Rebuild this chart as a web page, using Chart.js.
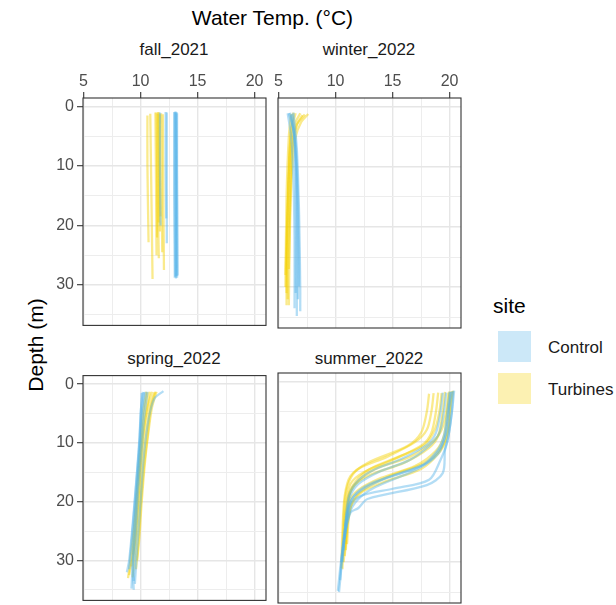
<!DOCTYPE html>
<html>
<head>
<meta charset="utf-8">
<script src="https://cdn.jsdelivr.net/npm/chart.js@4.4.1/dist/chart.umd.min.js"></script>
<style>
  body { margin: 0; background: #fff; width: 616px; height: 605px; overflow: hidden; position: relative;
         font-family: 'Liberation Sans', Arial, sans-serif; }
  .txt { position: absolute; white-space: nowrap; }
  canvas { position: absolute; }
  .key { position: absolute; width: 33px; height: 31px; }
</style>
</head>
<body>
<div class="txt" style="left:0;width:545px;top:7px;text-align:center;font-size:21px;line-height:21px;color:#000">Water Temp. (°C)</div>
<div class="txt" style="left:35px;top:345px;font-size:21px;line-height:21px;color:#000;transform:translate(-50%,-50%) rotate(-90deg)">Depth (m)</div>
<div id="strips"></div>

<!-- legend -->
<div class="txt" style="left:493px;top:295px;font-size:21px;line-height:21px;color:#000">site</div>
<div class="key" id="key0" style="left:498px;top:331px"></div>
<div class="key" id="key1" style="left:498px;top:373px"></div>
<div class="txt" id="lab0" style="left:548px;top:339px;font-size:17px;line-height:17px;color:#1A1A1A"></div>
<div class="txt" id="lab1" style="left:548px;top:380.5px;font-size:17px;line-height:17px;color:#1A1A1A"></div>

<canvas id="c0"></canvas>
<canvas id="c1"></canvas>
<canvas id="c2"></canvas>
<canvas id="c3"></canvas>

<script>
// Facets, sites, ticks
const seasons = ['fall_2021', 'winter_2022', 'spring_2022', 'summer_2022'];
const sites = ['Control', 'Turbines'];
const siteColors = ['86,180,233', '245,208,0'];
const xTicks = [5, 10, 15, 20];
const yTicks = [0, 10, 20, 30];
const tempRange = [4.95, 21.0];
const depthRange = [-1.45, 36.8];

// Profiles, each point is [temperature (°C), depth (m)]
const fallControl = [
  [[12.95, 0.9], [12.95, 15], [13.0, 28.8]],
  [[13.0, 1.0], [13.0, 14], [13.05, 28.6]],
  [[13.05, 0.8], [13.1, 15], [13.1, 28.9]],
  [[13.1, 1.0], [13.1, 12], [13.15, 28.5]],
  [[13.15, 0.9], [13.2, 16], [13.2, 28.8]],
  [[13.2, 1.1], [13.2, 14], [13.25, 28.4]],
  [[12.2, 0.9], [12.2, 10], [12.25, 18.8]],
  [[12.3, 1.0], [12.3, 12], [12.3, 23.0]],
  [[11.7, 1.0], [11.7, 10], [11.75, 20.0]]
];
const fallTurbines = [
  [[10.6, 1.5], [10.6, 10], [10.7, 22.8]],
  [[10.85, 1.2], [10.95, 15], [11.05, 29.0]],
  [[11.3, 1.0], [11.35, 12], [11.4, 25.0]],
  [[11.4, 1.0], [11.45, 12], [11.45, 22.0]],
  [[11.5, 1.2], [11.5, 14], [11.6, 25.5]],
  [[11.55, 0.9], [11.6, 10], [11.6, 19.5]],
  [[11.6, 1.0], [11.65, 14], [11.7, 21.0]],
  [[11.7, 1.3], [11.7, 10], [11.75, 18.5]],
  [[11.8, 1.1], [11.85, 14], [11.9, 24.5]],
  [[11.95, 1.3], [12.0, 15], [12.05, 27.5]]
];

const winterControl = [
  [[5.9, 1.1], [6.3, 4], [6.5, 10], [6.6, 20], [6.6, 30], [6.6, 34.8]],
  [[6.0, 1.0], [6.4, 5], [6.6, 12], [6.7, 25], [6.7, 32]],
  [[6.2, 1.2], [6.5, 6], [6.7, 15], [6.8, 26], [6.8, 29.9]],
  [[5.8, 1.1], [6.1, 5], [6.3, 12], [6.4, 22], [6.4, 33.5]],
  [[6.1, 1.3], [6.4, 6], [6.5, 15], [6.5, 27], [6.5, 31]],
  [[6.3, 1.0], [6.6, 7], [6.8, 18], [6.9, 30], [6.9, 34]]
];
const winterTurbines = [
  [[7.6, 1.2], [7.0, 2.5], [6.5, 5], [6.2, 10], [6.0, 20], [5.9, 33]],
  [[7.3, 1.3], [6.6, 3], [6.2, 6], [6.0, 15], [5.8, 25], [5.8, 32]],
  [[6.9, 1.1], [6.4, 3], [6.0, 8], [5.8, 18], [5.7, 31]],
  [[6.5, 1.1], [6.1, 4], [5.9, 12], [5.7, 22], [5.6, 28]],
  [[6.1, 1.2], [5.9, 5], [5.7, 15], [5.6, 30]],
  [[7.1, 1.4], [6.6, 3], [6.2, 7], [6.0, 17], [5.9, 27]],
  [[6.3, 1.0], [6.0, 6], [5.8, 16], [5.7, 26], [5.7, 33]]
];

const springControl = [
  [[12.0, 1.2], [11.2, 2.5], [10.7, 6], [10.3, 12], [10.0, 20], [9.7, 28], [9.5, 34]],
  [[10.2, 1.3], [10.0, 5], [9.9, 10], [9.6, 17], [9.3, 24], [9.0, 30], [8.8, 32]],
  [[10.4, 1.3], [10.2, 5], [10.0, 10], [9.7, 18], [9.5, 25], [9.3, 31], [9.2, 34.8]],
  [[10.1, 1.5], [10.0, 6], [9.8, 12], [9.5, 20], [9.2, 27], [9.0, 31.5]],
  [[10.6, 1.3], [10.3, 6], [10.1, 11], [9.8, 18], [9.6, 25], [9.4, 33.5]],
  [[10.3, 1.4], [10.1, 5], [9.9, 11], [9.7, 17], [9.5, 22], [9.3, 30], [9.4, 35]]
];
const springTurbines = [
  [[11.4, 1.3], [11.0, 4], [10.7, 8], [10.4, 13], [10.1, 20], [9.9, 26], [9.7, 30]],
  [[11.2, 1.4], [10.8, 4], [10.5, 8], [10.2, 13], [9.9, 20], [9.6, 27], [9.3, 32.9]],
  [[11.0, 1.3], [10.6, 4], [10.3, 8], [10.0, 14], [9.8, 20], [9.5, 27], [9.0, 32.5]],
  [[10.8, 1.3], [10.5, 5], [10.2, 9], [9.9, 15], [9.7, 21], [9.4, 28], [9.2, 31]],
  [[10.6, 1.4], [10.4, 4], [10.1, 9], [9.9, 14], [9.6, 21], [9.3, 29]],
  [[11.3, 1.3], [10.9, 4], [10.6, 9], [10.3, 14], [10.0, 21], [9.8, 27], [9.6, 31.5]],
  [[10.5, 1.3], [10.2, 5], [10.0, 10], [9.7, 17], [9.5, 23], [9.1, 30], [8.9, 33]]
];

const summerControl = [
  [[20.3, 1.6], [20.2, 5], [19.9, 9], [19.6, 11.3], [19.4, 15.2], [18.0, 17.2], [12.8, 19.5], [12.0, 21], [11.3, 21.8], [10.8, 26], [10.3, 35]],
  [[20.4, 1.5], [20.2, 5], [19.8, 10], [19.2, 13], [18.2, 16.3], [15.0, 17.8], [12.2, 19.0], [11.3, 20.5], [10.7, 26], [10.4, 33]],
  [[20.0, 1.7], [19.8, 5], [19.5, 9], [18.9, 11.5], [17.5, 14], [14.5, 16], [12.3, 18], [11.3, 20], [10.8, 26]],
  [[19.7, 1.8], [19.5, 5], [19.1, 8.5], [18.3, 10.5], [16.5, 13], [13.8, 15], [12.0, 17], [11.2, 19.5], [10.8, 25], [10.5, 30]],
  [[20.2, 1.6], [20.0, 4], [19.8, 8], [19.2, 11], [18.0, 13.5], [16.0, 15], [13.0, 17], [11.6, 19], [11.0, 22], [10.6, 30]],
  [[19.4, 1.8], [19.2, 5], [18.8, 8.5], [18.0, 10.5], [15.8, 12.8], [13.2, 14.8], [11.8, 16.8], [11.1, 19.5], [10.7, 28]],
  [[20.1, 1.7], [19.9, 5], [19.6, 9], [19.0, 12], [17.2, 14.5], [13.5, 17.5], [12.0, 19.5], [11.2, 22], [10.6, 28], [10.2, 34.8]]
];
const summerTurbines = [
  [[18.2, 2.0], [18.0, 5], [17.5, 8.5], [16.3, 10.7], [12.8, 13.5], [11.3, 15.7], [10.8, 19], [10.6, 25], [10.5, 31]],
  [[19.0, 1.8], [18.8, 5], [18.4, 8.5], [17.6, 10.5], [15.0, 13], [12.5, 15], [11.3, 17], [10.9, 21], [10.7, 26], [10.6, 31.2]],
  [[19.6, 1.7], [19.4, 5], [19.0, 9], [18.2, 11], [16.0, 13.5], [13.0, 15.5], [11.5, 17.5], [11.0, 21], [10.8, 27]],
  [[20.0, 1.6], [19.8, 5], [19.5, 9], [18.8, 11.5], [17.0, 14], [14.0, 16], [12.0, 18], [11.2, 20], [10.9, 26], [10.7, 30]],
  [[20.2, 1.6], [20.0, 5], [19.7, 9.5], [19.0, 12], [17.5, 14.5], [14.5, 16.5], [12.2, 18.5], [11.3, 21], [11.0, 27]],
  [[19.3, 1.9], [19.1, 5], [18.7, 8], [17.8, 10.5], [15.5, 12.5], [13.0, 14.5], [11.8, 16.5], [11.1, 19], [10.8, 24]],
  [[20.3, 1.5], [20.1, 4], [19.9, 8], [19.3, 11], [17.8, 13.5], [15.0, 15.5], [12.8, 17.5], [11.6, 19.5], [11.1, 23], [10.8, 29]],
  [[19.9, 1.8], [19.7, 5], [19.3, 8], [18.5, 10], [16.5, 12.5], [13.5, 14.5], [12.0, 16.5], [11.2, 19], [10.9, 28]],
  [[18.6, 1.9], [18.4, 5], [18.0, 8], [17.0, 10], [14.5, 12.5], [12.0, 14.5], [11.2, 16.5], [10.8, 20], [10.6, 29]]
];

const controlBySeason = [fallControl, winterControl, springControl, summerControl];
const turbinesBySeason = [fallTurbines, winterTurbines, springTurbines, summerTurbines];

// Panel layout (plot area in page pixels)
const panelW = 183, panelH = 230, pad = 10;
const panelBoxes = [
  { left: 82.5, top: 98, xAxis: true, yAxis: true },
  { left: 277.5, top: 98, xAxis: true, yAxis: false },
  { left: 82.5, top: 373.3, xAxis: false, yAxis: true },
  { left: 277.5, top: 373.3, xAxis: false, yAxis: false }
];
const yAxisW = 43, xAxisH = 40;

Chart.defaults.font.family = "'Liberation Sans', Arial, sans-serif";

const isOn = (v, list) => list.some(t => Math.abs(t - v) < 1e-6);

// Border around each panel
const frame = {
  id: 'frame',
  afterDraw(chart) {
    const { ctx, chartArea: a } = chart;
    ctx.save();
    ctx.strokeStyle = '#333333';
    ctx.lineWidth = 1.1;
    ctx.strokeRect(a.left, a.top, a.right - a.left, a.bottom - a.top);
    ctx.restore();
  }
};

function toDatasets(profiles, site) {
  return profiles.map(p => ({
    label: sites[site],
    data: p.map(([t, d]) => ({ x: t, y: d })),
    showLine: true,
    borderColor: `rgba(${siteColors[site]},0.45)`,
    borderWidth: 2.3,
    pointRadius: 0,
    tension: 0.3
  }));
}

const strips = document.getElementById('strips');

panelBoxes.forEach((b, i) => {
  const yw = b.yAxis ? yAxisW : 0;
  const xh = b.xAxis ? xAxisH : 0;
  const cv = document.getElementById('c' + i);
  const w = panelW + yw + 2 * pad;
  const h = panelH + xh + 2 * pad;
  cv.width = w; cv.height = h;
  cv.style.width = w + 'px'; cv.style.height = h + 'px';
  cv.style.left = (b.left - yw - pad) + 'px';
  cv.style.top = (b.top - xh - pad) + 'px';

  // strip label
  const s = document.createElement('div');
  s.className = 'txt';
  s.textContent = seasons[i];
  s.style.cssText = `left:${b.left}px;width:${panelW}px;text-align:center;font-size:17px;line-height:17px;color:#1A1A1A;top:${b.xAxis ? 40.6 : 349.6}px`;
  strips.appendChild(s);

  new Chart(cv, {
    type: 'scatter',
    data: {
      datasets: [...toDatasets(controlBySeason[i], 0), ...toDatasets(turbinesBySeason[i], 1)]
    },
    options: {
      responsive: false,
      animation: false,
      layout: { padding: pad },
      plugins: { legend: { display: false }, tooltip: { enabled: false } },
      scales: {
        x: {
          type: 'linear',
          position: 'top',
          min: tempRange[0],
          max: tempRange[1],
          border: { display: false },
          grid: {
            color: c => isOn(c.tick.value, xTicks) ? '#E6E6E6' : '#EDEDED',
            lineWidth: c => isOn(c.tick.value, xTicks) ? 1.4 : 1.0,
            drawTicks: b.xAxis,
            tickLength: 6,
            tickWidth: 1.1,
            tickColor: c => isOn(c.tick.value, xTicks) ? '#333333' : 'rgba(0,0,0,0)'
          },
          ticks: {
            display: b.xAxis,
            stepSize: 2.5,
            includeBounds: false,
            autoSkip: false,
            maxRotation: 0,
            padding: 1,
            color: '#4D4D4D',
            font: { size: 16 },
            callback: v => isOn(v, xTicks) ? String(v) : ''
          },
          afterFit: sc => { sc.height = xh; }
        },
        y: {
          type: 'linear',
          reverse: true,
          min: depthRange[0],
          max: depthRange[1],
          border: { display: false },
          grid: {
            color: c => isOn(c.tick.value, yTicks) ? '#E6E6E6' : '#EDEDED',
            lineWidth: c => isOn(c.tick.value, yTicks) ? 1.4 : 1.0,
            drawTicks: b.yAxis,
            tickLength: 6,
            tickWidth: 1.1,
            tickColor: c => isOn(c.tick.value, yTicks) ? '#333333' : 'rgba(0,0,0,0)'
          },
          ticks: {
            display: b.yAxis,
            stepSize: 5,
            includeBounds: false,
            autoSkip: false,
            padding: 3,
            color: '#4D4D4D',
            font: { size: 16 },
            callback: v => isOn(v, yTicks) ? String(v) : ''
          },
          afterFit: sc => { sc.width = yw; }
        }
      }
    },
    plugins: [frame]
  });
});

// legend keys and labels
sites.forEach((name, k) => {
  document.getElementById('key' + k).style.background = `rgba(${siteColors[k]},0.3)`;
  document.getElementById('lab' + k).textContent = name;
});
</script>
</body>
</html>
